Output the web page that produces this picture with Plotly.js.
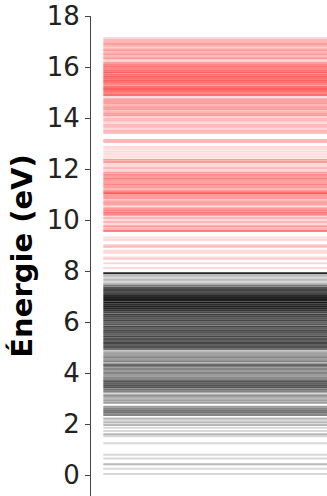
<!DOCTYPE html>
<html>
<head>
<meta charset="utf-8">
<script src="https://cdn.plot.ly/plotly-3.0.1.min.js"></script>
<style>html,body{margin:0;padding:0;background:#fff;}#chart{width:327px;height:496px;}</style>
</head>
<body>
<div id="chart"></div>
<script>
// Occupied levels (eV) and number of states drawn at each
const occEnergies = [0.04,0.25,0.42,0.65,0.80,1.25,1.52,1.60,1.73,1.86,1.96,2.06,2.14,2.22,2.36,2.44,2.52,2.60,2.68,2.84,2.92,3.00,3.08,3.14,3.21,3.28,3.36,3.44,3.52,3.60,3.68,3.76,3.84,3.92,4.00,4.08,4.16,4.24,4.31,4.38,4.46,4.54,4.62,4.70,4.78,4.86,4.94,5.02,5.10,5.18,5.26,5.34,5.42,5.50,5.58,5.66,5.74,5.82,5.90,5.98,6.06,6.14,6.22,6.30,6.38,6.46,6.54,6.62,6.70,6.78,6.86,6.94,7.02,7.10,7.18,7.26,7.34,7.42,7.50,7.58,7.66,7.74,7.82,7.91];
const occCounts   = [1,1,2,1,1,1,1,2,1,1,2,2,1,2,4,5,5,4,3,3,3,2,3,2,1,4,5,7,7,6,7,4,4,3,4,3,4,3,6,3,4,3,4,3,3,2,5,7,6,8,6,7,8,6,7,8,6,8,7,6,8,7,8,9,8,10,12,13,11,14,13,12,11,8,7,8,7,5,2,1,2,1,2,12];
// Virtual levels (eV) and number of states
const virEnergies = [8.12,8.31,8.47,8.53,8.72,8.80,8.95,9.02,9.22,9.32,9.57,9.64,9.70,9.76,9.84,9.92,10.00,10.08,10.16,10.22,10.30,10.38,10.46,10.55,10.62,10.70,10.78,10.86,10.94,11.02,11.07,11.14,11.22,11.30,11.38,11.46,11.54,11.62,11.70,11.78,11.86,11.96,12.04,12.12,12.20,12.28,12.36,12.48,12.58,12.68,12.78,12.86,13.06,13.14,13.42,13.50,13.58,13.66,13.74,13.82,13.90,13.98,14.10,14.18,14.26,14.34,14.42,14.50,14.58,14.66,14.74,14.83,14.90,14.98,15.06,15.14,15.22,15.30,15.38,15.46,15.54,15.62,15.70,15.78,15.86,15.94,16.02,16.10,16.18,16.27,16.34,16.42,16.50,16.58,16.66,16.74,16.82,16.90,16.98,17.06,17.14];
const virCounts   = [1,1,1,1,1,1,2,1,1,1,4,2,1,3,1,2,1,2,1,4,5,4,3,1,3,3,2,3,3,3,5,3,2,3,4,3,3,4,3,4,3,1,2,1,1,3,3,1,1,1,1,1,2,2,2,2,1,2,2,1,2,2,3,3,2,3,3,2,3,3,3,1,5,4,5,6,5,4,5,6,5,6,5,6,5,4,5,4,3,1,3,2,3,2,3,2,2,3,2,2,1];
const yTicks = [0,2,4,6,8,10,12,14,16,18];
const yLabel = 'Énergie (eV)';

const ALPHA = 0.15;
function levelTraces(energies, counts, rgb) {
  return energies.map((e, i) => {
    const a = 1 - Math.pow(1 - ALPHA, counts[i]);
    return {
      type: 'scatter', mode: 'lines',
      x: [0, 1], y: [e, e],
      line: {color: 'rgba(' + rgb + ',' + a.toFixed(3) + ')', width: 2},
      hoverinfo: 'skip', showlegend: false
    };
  });
}
const traces = levelTraces(virEnergies, virCounts, '255,0,0')
  .concat(levelTraces(occEnergies, occCounts, '0,0,0'));

const layout = {
  width: 327, height: 496,
  margin: {l: 91, r: 0, t: 16, b: 0, pad: 0},
  paper_bgcolor: '#fff', plot_bgcolor: '#fff',
  showlegend: false,
  xaxis: {range: [-0.055, 1], visible: false, showgrid: false, zeroline: false, fixedrange: true},
  yaxis: {
    range: [-0.82, 18], tickvals: yTicks, ticktext: yTicks.map(String),
    ticks: 'outside', ticklen: 5, tickwidth: 1, tickcolor: '#444',
    showline: true, linecolor: '#444', linewidth: 1,
    showgrid: false, zeroline: false,
    tickfont: {family: 'DejaVu Sans', size: 26, color: '#222'},
    title: {text: yLabel, font: {family: 'DejaVu Sans', size: 29, color: '#000', weight: 'bold'}, standoff: 5}
  }
};
Plotly.newPlot('chart', traces, layout, {displayModeBar: false, staticPlot: true});
</script>
</body>
</html>
